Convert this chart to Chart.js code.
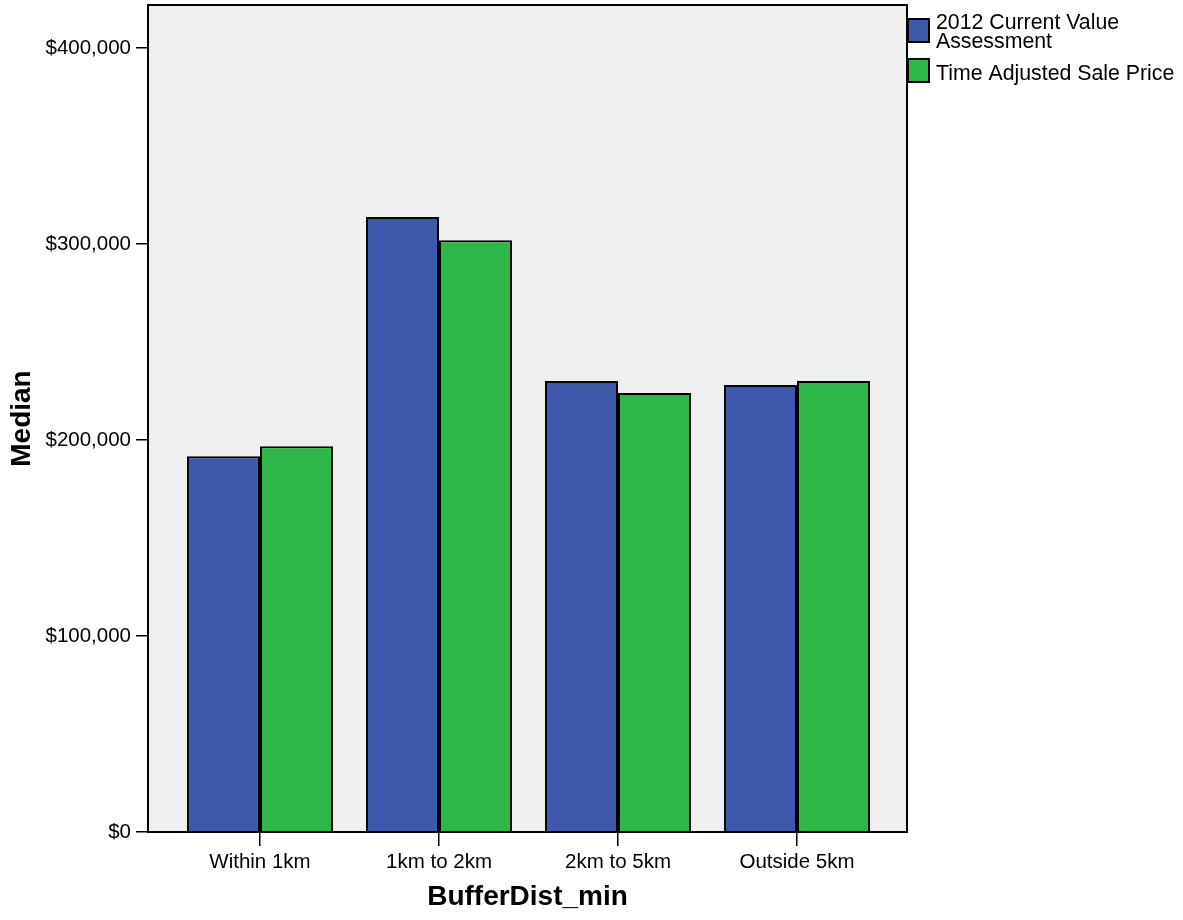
<!DOCTYPE html>
<html>
<head>
<meta charset="utf-8">
<script src="https://cdn.jsdelivr.net/npm/chart.js@4"></script>
<style>
  html, body { margin: 0; padding: 0; background: #fff; }
  #wrap { width: 1183px; height: 920px; }
</style>
</head>
<body>
<div id="wrap"><canvas id="medianChart" width="1183" height="920"></canvas></div>
<script>
const categories = ['Within 1km', '1km to 2km', '2km to 5km', 'Outside 5km'];
const assessmentValues = [191800, 313800, 230100, 228100];
const salePriceValues = [196900, 302000, 224000, 230100];
const seriesLabels = [['2012 Current Value', 'Assessment'], ['Time Adjusted Sale Price']];
const yTicks = [0, 100000, 200000, 300000, 400000];

const FONT = 'Arial, "Liberation Sans", sans-serif';

// grey plot background + black frame around the plot area
const plotFrame = {
    id: 'plotFrame',
    beforeDraw(chart) {
        const { ctx, chartArea: a } = chart;
        ctx.save();
        ctx.fillStyle = '#f0f0f0';
        ctx.fillRect(a.left, a.top, a.right - a.left, a.bottom - a.top);
        ctx.restore();
    },
    afterDatasetsDraw(chart) {
        const { ctx, chartArea: a } = chart;
        ctx.save();
        ctx.strokeStyle = '#000';
        ctx.lineWidth = 2;
        ctx.strokeRect(a.left, a.top, a.right - a.left, a.bottom - a.top);
        ctx.restore();
    }
};

// legend on the right, labels can have two lines
const sideLegend = {
    id: 'sideLegend',
    afterDraw(chart) {
        const { ctx, chartArea: a } = chart;
        const boxTops = [19, 59];
        const textBaselines = [[29, 47.5], [80]];
        ctx.save();
        chart.data.datasets.forEach((ds, i) => {
            ctx.fillStyle = ds.backgroundColor;
            ctx.fillRect(a.right + 1, boxTops[i], 21, 23);
            ctx.strokeStyle = '#000';
            ctx.lineWidth = 2;
            ctx.strokeRect(a.right + 1, boxTops[i], 21, 23);
            ctx.fillStyle = '#000';
            ctx.font = '21.3px ' + FONT;
            ctx.textBaseline = 'alphabetic';
            ctx.textAlign = 'left';
            ds.label.forEach((line, j) => ctx.fillText(line, a.right + 29, textBaselines[i][j]));
        });
        ctx.restore();
    }
};

const makeData = values => values.map((v, i) => ({ x: i, y: v }));

new Chart(document.getElementById('medianChart').getContext('2d'), {
    type: 'bar',
    data: {
        datasets: [{
            label: seriesLabels[0],
            data: makeData(assessmentValues),
            backgroundColor: '#3e58ab',
            borderColor: '#000',
            borderWidth: 2
        }, {
            label: seriesLabels[1],
            data: makeData(salePriceValues),
            backgroundColor: '#2eb848',
            borderColor: '#000',
            borderWidth: 2
        }]
    },
    options: {
        responsive: false,
        animation: false,
        categoryPercentage: 0.816,
        barPercentage: 1,
        layout: { padding: { top: 5, right: 276, bottom: 0, left: 0 } },
        plugins: {
            legend: { display: false },
            title: { display: false },
            tooltip: { enabled: false }
        },
        scales: {
            x: {
                type: 'linear',
                offset: false,
                min: -0.6257,
                max: 3.6145,
                afterBuildTicks: scale => { scale.ticks = categories.map((c, i) => ({ value: i })); },
                afterFit: scale => { scale.height = 88; },
                grid: { offset: false, drawOnChartArea: false, color: '#000', lineWidth: 1.5, tickLength: 14 },
                border: { display: false },
                ticks: {
                    color: '#000',
                    font: { family: FONT, size: 20.5 },
                    padding: 4,
                    maxRotation: 0,
                    callback: value => categories[value]
                },
                title: {
                    display: true,
                    text: 'BufferDist_min',
                    color: '#000',
                    font: { family: FONT, size: 28, weight: 'bold' },
                    padding: { top: 0, bottom: 6 }
                }
            },
            y: {
                min: 0,
                max: 422000,
                afterBuildTicks: scale => { scale.ticks = yTicks.map(v => ({ value: v })); },
                afterFit: scale => { scale.width = 148; scale.paddingTop = 0; },
                grid: { drawOnChartArea: false, color: '#000', lineWidth: 1.5, tickLength: 12 },
                border: { display: false },
                ticks: {
                    color: '#000',
                    font: { family: FONT, size: 20.5 },
                    padding: 5,
                    callback: value => '$' + value.toLocaleString('en-US')
                },
                title: {
                    display: true,
                    text: 'Median',
                    color: '#000',
                    font: { family: FONT, size: 28, weight: 'bold' },
                    padding: { top: 5, bottom: 0 }
                }
            }
        }
    },
    plugins: [plotFrame, sideLegend]
});
</script>
</body>
</html>
